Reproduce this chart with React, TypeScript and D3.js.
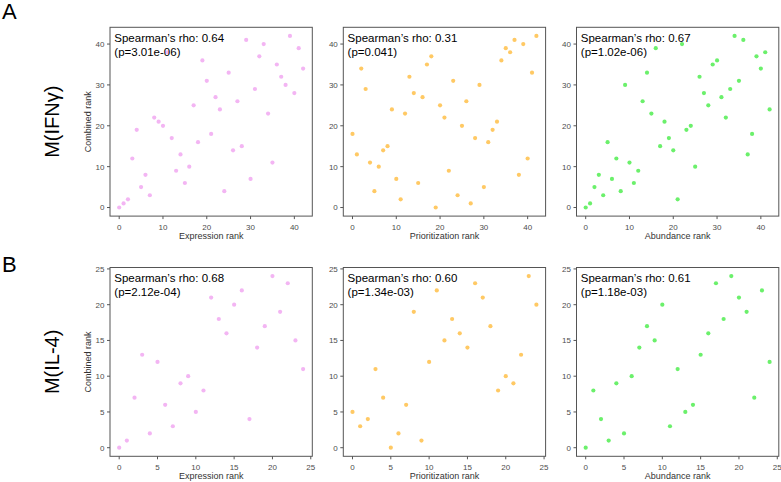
import React from "react";
import * as d3 from "d3";

// ---- Data (ranks) ----
// Row A: M(IFNγ), 43 items, x rank = index
const ifngExpression = [0,1,2,12,19,5,8,3,22,21,20,38,17,9,13,6,10,25,16,36,31,18,27,24,4,33,14,26,15,41,7,29,37,40,23,11,35,32,30,42,28,39,34];
const ifngPrioritization = [18,13,34,29,11,4,10,14,15,24,7,2,23,32,28,6,27,35,37,0,25,22,9,31,3,20,26,1,17,30,5,16,19,21,36,39,38,41,8,40,12,33,42];
const ifngAbundance = [0,1,5,8,3,16,7,12,4,30,11,6,9,26,33,23,39,15,21,17,14,2,40,19,20,10,32,28,25,35,36,27,22,29,42,31,41,13,18,37,34,38,24];
// Row B: M(IL-4), 25 items
const il4Expression = [0,1,7,13,2,12,6,3,9,10,5,8,21,18,16,20,22,4,14,17,24,19,23,15,11];
const il4Prioritization = [5,3,4,11,7,0,2,6,19,1,12,22,15,18,16,14,23,21,17,8,10,9,13,24,20];
const il4Abundance = [0,8,4,1,9,2,10,14,17,15,20,3,11,5,6,13,16,23,18,24,21,19,7,22,12];

const rowLabels = ["M(IFNγ)", "M(IL-4)"];
const rowLetters = ["A", "B"];
const xTitles = ["Expression rank", "Prioritization rank", "Abundance rank"];
const yTitle = "Combined rank";
const rhoTexts = [
  ["Spearman’s rho: 0.64", "Spearman’s rho: 0.31", "Spearman’s rho: 0.67"],
  ["Spearman’s rho: 0.68", "Spearman’s rho: 0.60", "Spearman’s rho: 0.61"],
];
const pTexts = [
  ["(p=3.01e-06)", "(p=0.041)", "(p=1.02e-06)"],
  ["(p=2.12e-04)", "(p=1.34e-03)", "(p=1.18e-03)"],
];
const ticksTop = [0, 10, 20, 30, 40];
const ticksBottom = [0, 5, 10, 15, 20, 25];
const colors = ["#f3b5f3", "#ffc964", "#6bf06b"];

const rows = [
  { series: [ifngExpression, ifngPrioritization, ifngAbundance], max: 42, ticks: ticksTop },
  { series: [il4Expression, il4Prioritization, il4Abundance], max: 24, ticks: ticksBottom },
];

const panelLefts = [110, 343.3, 576.5];
const panelW = 202.3;
const rowTops = [27.3, 267.5];
const panelH = 188.8;
const FONT = "'Liberation Sans', Arial, Helvetica, sans-serif";

export default function App() {
  return (
    <svg width={781} height={482} style={{ position: "absolute", left: 0, top: 0, background: "#fff" }} fontFamily={FONT}>
      {rows.map((row, ri) => {
        const top = rowTops[ri];
        const exp = row.max * 0.05;
        const y = d3.scaleLinear().domain([-exp, row.max + exp]).range([top + panelH, top]);
        return (
          <g key={ri}>
            <text x={2} y={ri === 0 ? 18.5 : 272} fontSize={22} fill="#000">{rowLetters[ri]}</text>
            <text transform={`translate(58.5,${top + panelH / 2}) rotate(-90)`} textAnchor="middle" fontSize={20} fill="#000">{rowLabels[ri]}</text>
            <text transform={`translate(90.5,${top + panelH / 2}) rotate(-90)`} textAnchor="middle" fontSize={9} fill="#333">{yTitle}</text>
            {row.series.map((vals, ci) => {
              const left = panelLefts[ci];
              const x = d3.scaleLinear().domain([-exp, row.max + exp]).range([left, left + panelW]);
              return (
                <g key={ci}>
                  <rect x={left} y={top} width={panelW} height={panelH} fill="none" stroke="#555" strokeWidth={1} />
                  {row.ticks.map((t) => (
                    <g key={"x" + t}>
                      <line x1={x(t)} x2={x(t)} y1={top + panelH} y2={top + panelH + 3} stroke="#555" />
                      <text x={x(t)} y={top + panelH + 13.6} textAnchor="middle" fontSize={8} fill="#4d4d4d">{t}</text>
                    </g>
                  ))}
                  {row.ticks.filter((t) => t <= row.max + exp).map((t) => (
                    <g key={"y" + t}>
                      <line x1={left - 3} x2={left} y1={y(t)} y2={y(t)} stroke="#555" />
                      <text x={left - 5.5} y={y(t) + 2.9} textAnchor="end" fontSize={8} fill="#4d4d4d">{t}</text>
                    </g>
                  ))}
                  {vals.map((v, i) => (
                    <circle key={i} cx={x(i)} cy={y(v)} r={2.1} fill={colors[ci]} />
                  ))}
                  <text x={left + 4.3} y={top + 14.6} fontSize={11.5} fill="#000">{rhoTexts[ri][ci]}</text>
                  <text x={left + 4.3} y={top + 28.4} fontSize={11.5} fill="#000">{pTexts[ri][ci]}</text>
                  <text x={left + panelW / 2} y={top + panelH + 22.7} textAnchor="middle" fontSize={9} fill="#333">{xTitles[ci]}</text>
                </g>
              );
            })}
          </g>
        );
      })}
    </svg>
  );
}
